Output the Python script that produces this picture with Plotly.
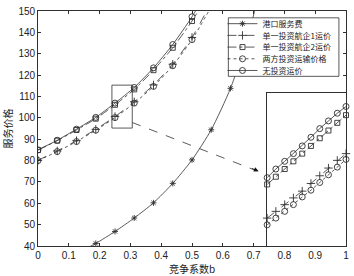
import plotly.graph_objects as go

# ---------------- data ----------------
b_main = [0, 0.0625, 0.125, 0.1875, 0.25, 0.3125, 0.375, 0.4375, 0.5, 0.5625]
none_inv = [85, 89.5, 94.7, 100.2, 106.9, 114.2, 123.4, 134.3, 147.3, 163]
single2 = [84.9, 89.3, 94.3, 99.6, 106.1, 113.3, 122.3, 132.8, 145.3, 160]
single1 = [80.1, 84.5, 89.3, 94.6, 100.6, 107.5, 115.4, 125.1, 137.6, 154]
both_inv = [80, 84.2, 88.9, 94.2, 100.1, 106.9, 114.7, 124.4, 136.6, 152]

b_port = [0.125, 0.1875, 0.25, 0.3125, 0.375, 0.4375, 0.5, 0.5625, 0.625, 0.6875, 0.75]
port_fee = [36.5, 41.2, 46.8, 53.1, 60.2, 69.3, 80.3, 94.4, 113.8, 141, 180]

b_inset = [0.25, 0.2569, 0.2639, 0.2708, 0.2778, 0.2847, 0.2917, 0.2986, 0.3056, 0.3125]
none_inset = [106.8, 107.7, 108.5, 109.3, 110.1, 111.0, 111.9, 112.7, 113.5, 114.2]
single2_inset = [106.1, 106.9, 107.7, 108.5, 109.3, 110.1, 110.9, 111.7, 112.5, 113.3]
both_inset = [101.9, 102.6, 103.3, 104.0, 104.8, 105.5, 106.3, 107.1, 107.9, 108.7]
single1_inset = [102.6, 103.3, 104.0, 104.7, 105.4, 106.2, 107.0, 107.8, 108.6, 109.3]

names = ["港口服务费", "单一投资航企1运价", "单一投资航企2运价", "两方投资运输价格", "无投资运价"]

x_ticks = [0, 0.1, 0.2, 0.3, 0.4, 0.5, 0.6, 0.7, 0.8, 0.9, 1]
y_ticks = [40, 50, 60, 70, 80, 90, 100, 110, 120, 130, 140, 150]

# ---------------- styles ----------------
LC = "#303030"
styles = [
    dict(dash="solid", symbol="asterisk-open", size=5),
    dict(dash="dash", symbol="cross-thin-open", size=6),
    dict(dash="dashdot", symbol="square-open", size=5),
    dict(dash="dot", symbol="circle-open", size=6),
    dict(dash="solid", symbol="circle-open", size=6),
]

main_series = [
    (b_port, port_fee),
    (b_main, single1),
    (b_main, single2),
    (b_main, both_inv),
    (b_main, none_inv),
]
inset_series = [
    None,
    (b_inset, single1_inset),
    (b_inset, single2_inset),
    (b_inset, both_inset),
    (b_inset, none_inset),
]

legend_ids = ["legend", "legend2", "legend3", "legend4", "legend5"]

fig = go.Figure()
for name, st, ser, lid in zip(names, styles, main_series, legend_ids):
    fig.add_trace(go.Scatter(
        x=ser[0], y=ser[1], name=name, mode="lines+markers", legend=lid,
        line=dict(color=LC, width=0.8, dash=st["dash"], shape="spline", smoothing=0.6),
        marker=dict(symbol=st["symbol"], size=st["size"], color=LC,
                    line=dict(color=LC, width=0.9)),
        xaxis="x", yaxis="y",
    ))
for st, ser in zip(styles, inset_series):
    if ser is None:
        continue
    fig.add_trace(go.Scatter(
        x=ser[0], y=ser[1], mode="lines+markers", showlegend=False,
        line=dict(color=LC, width=0.8, dash=st["dash"]),
        marker=dict(symbol=st["symbol"], size=st["size"], color=LC,
                    line=dict(color=LC, width=0.9)),
        cliponaxis=False,
        xaxis="x2", yaxis="y2",
    ))

num_font = dict(family="Arial, Liberation Sans, sans-serif", size=10, color="#222")
cjk = "Noto Sans CJK SC"

# plot-area geometry (pixels) used to place legend rows
T, B = 5, 246
def py2paper(py):
    return 1 - (py - T) / (B - T)

legend_layout = {}
row_px = [18, 30, 42, 54, 66]
for lid, py in zip(legend_ids, row_px):
    legend_layout[lid] = dict(
        x=0.599, xanchor="left", y=py2paper(py), yanchor="middle",
        bgcolor="rgba(0,0,0,0)", borderwidth=0,
        font=dict(family=cjk, size=8, color="#222"),
        itemwidth=30, tracegroupgap=0,
    )

fig.update_layout(
    width=354, height=276,
    margin=dict(l=38, r=7, t=5, b=30),
    paper_bgcolor="white", plot_bgcolor="white",
    font=num_font,
    xaxis=dict(
        domain=[0, 1], range=[0, 1], tickvals=x_ticks,
        ticks="inside", ticklen=3, tickcolor=LC, showline=True, linecolor=LC,
        linewidth=0.8, mirror="ticks", showgrid=False, zeroline=False,
        tickfont=num_font,
        title=dict(text="竞争系数b", font=dict(family=cjk, size=10, color="#222"), standoff=2),
    ),
    yaxis=dict(
        domain=[0, 1], range=[40, 150], tickvals=y_ticks,
        ticks="inside", ticklen=3, tickcolor=LC, showline=True, linecolor=LC,
        linewidth=0.8, mirror="ticks", showgrid=False, zeroline=False,
        tickfont=num_font,
        title=dict(text="服务价格", font=dict(family=cjk, size=10, color="#222"), standoff=4),
    ),
    xaxis2=dict(
        domain=[0.744, 1], range=[0.25, 0.3125], anchor="y2",
        showline=True, linecolor=LC, linewidth=0.8, mirror=True,
        showticklabels=False, ticks="", showgrid=False, zeroline=False,
    ),
    yaxis2=dict(
        domain=[0, 0.651], range=[99.7, 115.6], anchor="x2",
        showline=True, linecolor=LC, linewidth=0.8, mirror=True,
        showticklabels=False, ticks="", showgrid=False, zeroline=False,
    ),
    showlegend=True,
    hovermode=False,
    **legend_layout,
)

# legend frame (white box, drawn above the traces, below the legend text)
fig.add_shape(type="rect", xref="paper", yref="paper",
              x0=0.618, x1=0.977, y0=py2paper(72), y1=py2paper(12),
              line=dict(color=LC, width=0.8), fillcolor="white", layer="above")

# zoom rectangle in main axes
fig.add_shape(type="rect", xref="x", yref="y", x0=0.24, x1=0.306, y0=95.2, y1=115.3,
              line=dict(color=LC, width=0.8), fillcolor="rgba(0,0,0,0)")
# dashed connector
fig.add_shape(type="line", xref="x", yref="y", x0=0.306, y0=97.8, x1=0.71, y1=75.2,
              line=dict(color=LC, width=0.8, dash="dash"))
fig.add_annotation(x=0.7165, y=75.0, ax=0.69, ay=76.6, xref="x", yref="y",
                   axref="x", ayref="y", text="", showarrow=True,
                   arrowhead=2, arrowsize=1.2, arrowwidth=0.8, arrowcolor="#111")

fig.write_html("out.html", config={"displayModeBar": False},
               post_script="document.body.style.margin='0';document.body.style.padding='0';")
